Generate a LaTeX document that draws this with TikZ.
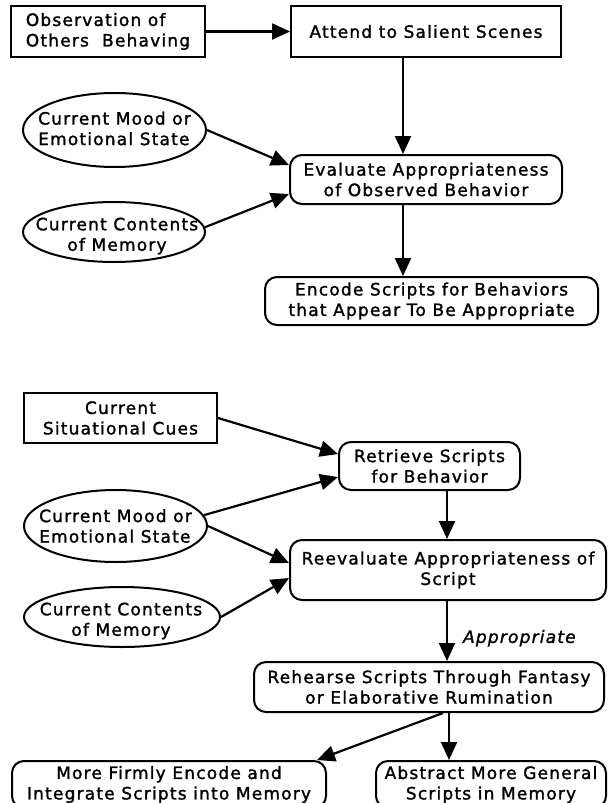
\documentclass[tikz,border=0pt]{standalone}
\usepackage{fontspec}
\newfontfamily\diagfont[LetterSpace=7,FakeBold=1.5]{DejaVu Sans}
\usetikzlibrary{arrows.meta,positioning,shapes.geometric}
\begin{document}
\begin{tikzpicture}[
  x=1pt, y=-1pt,
  every node/.style={font=\diagfont\fontsize{17pt}{20.5pt}\selectfont, align=center, inner sep=0pt},
  plain/.style={draw, line width=2pt, minimum height=50pt},
  soft/.style={plain, rounded corners=12pt},
  oval/.style={draw, ellipse, line width=2pt, minimum width=183pt, minimum height=60pt},
  arrow/.style={-{Triangle[length=18pt,width=16pt]}, line width=2.2pt}
]
\useasboundingbox (0,0) rectangle (609,803);
\node[plain, minimum width=270pt, minimum height=51pt] (attend) at (426,31.5) {Attend to Salient Scenes};
\node[plain, minimum width=194pt, minimum height=51pt, align=left] (obs) [left=84pt of attend] {Observation of\\Others\ \ Behaving};
\node[soft, minimum width=272pt, minimum height=49pt] (eval) [below=96pt of attend] {Evaluate Appropriateness\\of Observed Behavior};
\node[soft, minimum width=333pt, minimum height=48pt] (encode) [below=71pt of eval, xshift=5.5pt] {Encode Scripts for Behaviors\\that Appear To Be Appropriate};
\node[oval, minimum height=74pt] (mood) at (114.5,130) {};
\node[align=left] (moodtxt) at ([yshift=1.5pt]mood.center) {Current Mood or\\Emotional State};
\node[oval, minimum width=182pt] (mem) at (114,232) {};
\node (memtxt) at ([xshift=3pt, yshift=-4pt]mem.center) {Current Contents\\of Memory};
\draw[arrow] (obs) -- (attend);
\draw[arrow] ([xshift=-23pt]attend.south) -- ([xshift=-23pt]eval.north);
\draw[arrow] (mood.east) -- ([yshift=14.5pt]eval.west);
\draw[arrow] (mem.3) -- ([yshift=-14.5pt]eval.west);
\draw[arrow] ([xshift=-23pt]eval.south) -- ([xshift=-23pt]eval.south |- encode.north);

\node[plain, minimum width=193pt] (cues) at (120.5,418) {Current\\Situational Cues};
\node[soft, minimum width=181pt, minimum height=48pt] (retrieve) at (429.5,466) {Retrieve Scripts\\for Behavior};
\node[soft, minimum width=316pt, minimum height=60pt] (reeval) [below=48pt of retrieve, xshift=18.5pt] {Reevaluate Appropriateness of\\Script};
\node[soft, minimum width=350pt] (rehearse) [below=60pt of reeval, xshift=-19pt] {Rehearse Scripts Through Fantasy\\or Elaborative Rumination};
\node[soft, minimum width=230pt, minimum height=47pt] (abstract) [below=47pt of rehearse, xshift=62pt] {Abstract More General\\Scripts in Memory};
\node[soft, minimum width=314pt, minimum height=47pt] (firmly) [left=48pt of abstract] {More Firmly Encode and\\Integrate Scripts into Memory};
\node[oval, minimum height=72pt] (mood2) at (115.5,526) {};
\node[align=left] (mood2txt) at (mood2.center) {Current Mood or\\Emotional State};
\node[oval, minimum width=196pt] (mem2) at (122,617) {};
\node (mem2txt) at ([xshift=-1pt, yshift=-4pt]mem2.center) {Current Contents\\of Memory};
\draw[arrow] (cues.east) -- ([yshift=12pt]retrieve.west);
\draw[arrow] (mood2.7) -- ([yshift=-11pt]retrieve.west);
\draw[arrow] (mood2.east) -- ([yshift=7pt]reeval.west);
\draw[arrow] (mem2.east) -- ([yshift=-8pt]reeval.west);
\draw[arrow] ([xshift=17.5pt]retrieve.south) -- ([xshift=17.5pt]retrieve.south |- reeval.north);
\draw[arrow] ([xshift=-1pt]reeval.south) -- ([xshift=-1pt]reeval.south |- rehearse.north)
  node[pos=0.62, right=15pt, font=\diagfont\fontsize{17pt}{20.5pt}\selectfont\itshape] (ok) {Appropriate};
\draw[arrow] ([xshift=20pt]rehearse.south) -- ([xshift=20pt]rehearse.south |- abstract.north);
\draw[arrow] ([xshift=14pt]rehearse.south) -- ([xshift=-10pt]firmly.north east);
\end{tikzpicture}
\end{document}
